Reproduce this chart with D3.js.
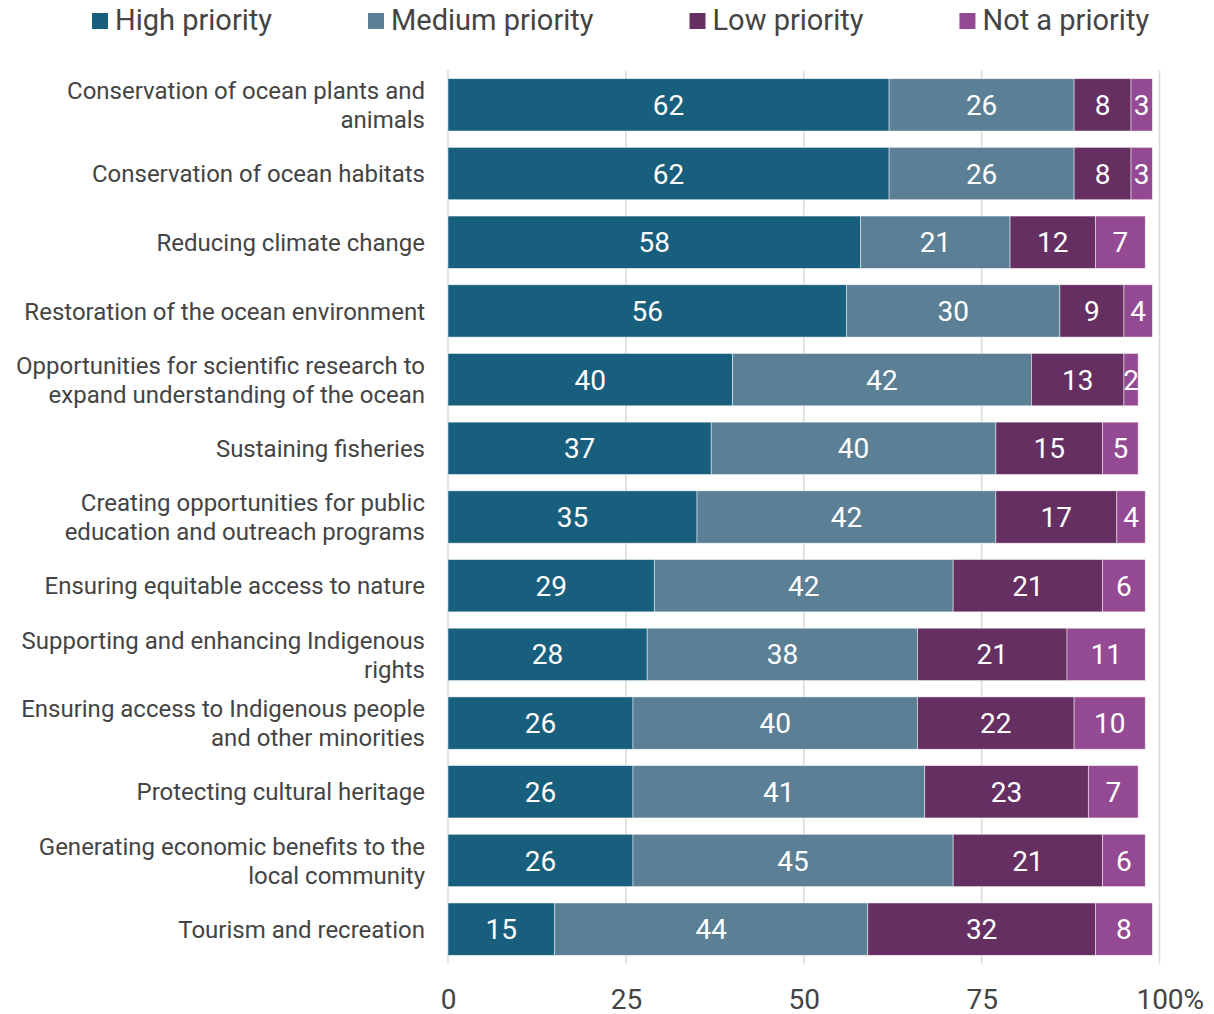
<!DOCTYPE html>
<html>
<head>
<meta charset="utf-8">
<script src="https://cdn.jsdelivr.net/npm/d3@7"></script>
<style>
  html, body { margin: 0; padding: 0; background: #fff; }
  svg { display: block; font-family: Roboto, "Noto Sans", sans-serif; }
</style>
</head>
<body>
<svg id="chart" width="1214" height="1014"></svg>
<script>
// Priority ratings by ocean management goal (percent of respondents)
const categories = [
  "Conservation of ocean plants and animals",
  "Conservation of ocean habitats",
  "Reducing climate change",
  "Restoration of the ocean environment",
  "Opportunities for scientific research to expand understanding of the ocean",
  "Sustaining fisheries",
  "Creating opportunities for public education and outreach programs",
  "Ensuring equitable access to nature",
  "Supporting and enhancing Indigenous rights",
  "Ensuring access to Indigenous people and other minorities",
  "Protecting cultural heritage",
  "Generating economic benefits to the local community",
  "Tourism and recreation"
];
const seriesNames = ["High priority", "Medium priority", "Low priority", "Not a priority"];
const highPriority   = [62, 62, 58, 56, 40, 37, 35, 29, 28, 26, 26, 26, 15];
const mediumPriority = [26, 26, 21, 30, 42, 40, 42, 42, 38, 40, 41, 45, 44];
const lowPriority    = [8, 8, 12, 9, 13, 15, 17, 21, 21, 22, 23, 21, 32];
const notPriority    = [3, 3, 7, 4, 2, 5, 4, 6, 11, 10, 7, 6, 8];
const tickValues = [0, 25, 50, 75, 100];
const tickLabels = ["0", "25", "50", "75", "100"];
const tickSuffix = ["", "", "", "", "%"];
const colors = ["#185e7d", "#5b7f95", "#662f62", "#944a92"];

const seriesValues = [highPriority, mediumPriority, lowPriority, notPriority];
const rows = categories.map((c, i) => {
  const r = { category: c };
  seriesNames.forEach((s, k) => { r[s] = seriesValues[k][i]; });
  return r;
});
const stacked = d3.stack().keys(seriesNames)(rows);

const svg = d3.select("#chart");
const margin = { left: 448, right: 54.5, top: 70.5, bottom: 50.5 };
const W = 1214, H = 1014;

const x = d3.scaleLinear().domain([0, 100]).range([margin.left, W - margin.right]);
const y = d3.scaleBand().domain(categories)
  .range([margin.top, H - margin.bottom])
  .paddingInner(0.238).paddingOuter(0.119);

// vertical gridlines running just past the last bar
const grid = svg.append("g");
grid.selectAll("line").data(tickValues).join("line")
  .attr("x1", d => x(d)).attr("x2", d => x(d))
  .attr("y1", margin.top).attr("y2", H - margin.bottom)
  .attr("stroke", "#d9d9d9").attr("stroke-width", 1.5);

// bottom axis labels: the number is centred on its tick, the unit trails it
const xAxis = d3.axisBottom(x).tickValues(tickValues)
  .tickFormat((d, i) => tickLabels[i]).tickSize(0).tickPadding(0);
const ax = svg.append("g").attr("transform", `translate(0,${H - margin.bottom})`).call(xAxis);
ax.select(".domain").remove();
ax.selectAll(".tick text")
  .attr("font-family", "Roboto, sans-serif")
  .attr("font-size", 28).attr("fill", "#444")
  .attr("dy", null).attr("y", 45);
ax.selectAll(".tick").each(function(d, i) {
  if (!tickSuffix[i]) return;
  const num = d3.select(this).select("text");
  const w = num.node().getComputedTextLength();
  d3.select(this).append("text")
    .attr("x", w / 2).attr("y", 45)
    .attr("text-anchor", "start")
    .attr("font-family", "Roboto, sans-serif")
    .attr("font-size", 28).attr("fill", "#444")
    .text(tickSuffix[i]);
});

// stacked bar segments
const layers = svg.append("g").selectAll("g").data(stacked).join("g")
  .attr("fill", (d, i) => colors[i]);
layers.selectAll("rect").data(d => d).join("rect")
  .attr("x", d => x(d[0]))
  .attr("y", d => y(d.data.category))
  .attr("width", d => x(d[1]) - x(d[0]))
  .attr("height", y.bandwidth())
  .attr("stroke", "#ffffff").attr("stroke-opacity", 0.6).attr("stroke-width", 0.8);

// value labels inside each segment
layers.selectAll("text").data(d => d.map(v => Object.assign(v.slice(), { data: v.data, key: d.key }))).join("text")
  .attr("x", d => (x(d[0]) + x(d[1])) / 2)
  .attr("y", d => y(d.data.category) + y.bandwidth() / 2)
  .attr("dy", "0.36em")
  .attr("text-anchor", "middle")
  .attr("fill", "#fff")
  .attr("font-size", 28)
  .text(d => d.data[d.key]);

// category labels, wrapped to fit the left margin
const labelX = 425, maxLabelWidth = 414, lineHeight = 29;
const labels = svg.append("g").attr("font-size", 24).attr("fill", "#444").attr("text-anchor", "end");
categories.forEach(c => {
  const t = labels.append("text").attr("x", labelX);
  const words = c.split(" ");
  const lines = [];
  let line = [];
  const probe = labels.append("text").attr("visibility", "hidden");
  words.forEach(w => {
    const test = line.concat(w).join(" ");
    probe.text(test);
    if (line.length && probe.node().getComputedTextLength() > maxLabelWidth) {
      lines.push(line.join(" "));
      line = [w];
    } else {
      line.push(w);
    }
  });
  lines.push(line.join(" "));
  probe.remove();
  const cy = y(c) + y.bandwidth() / 2;
  lines.forEach((l, i) => {
    t.append("tspan").attr("x", labelX)
      .attr("y", cy + (i - (lines.length - 1) / 2) * lineHeight)
      .attr("dy", "0.36em")
      .text(l);
  });
});

// legend across the top
const legend = svg.append("g").attr("font-size", 29).attr("fill", "#444");
let lx = 92;
seriesNames.forEach((s, i) => {
  const g = legend.append("g").attr("transform", `translate(${lx},0)`);
  g.append("rect").attr("x", 0).attr("y", 13).attr("width", 16).attr("height", 16).attr("fill", colors[i]);
  const t = g.append("text").attr("x", 23).attr("y", 30).text(s);
  lx += 23 + t.node().getComputedTextLength() + 96;
});
</script>
</body>
</html>
